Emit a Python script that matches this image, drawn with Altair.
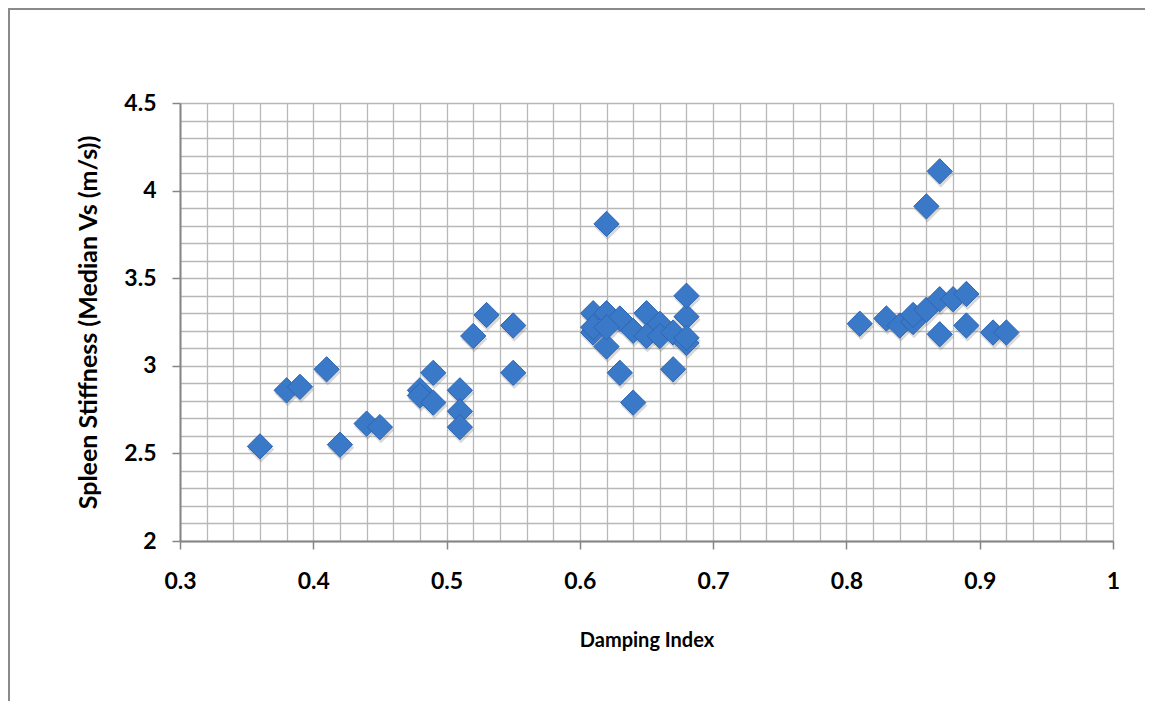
import altair as alt
import pandas as pd

damping = [0.36, 0.38, 0.39, 0.41, 0.42, 0.44, 0.45, 0.48, 0.48, 0.49, 0.49, 0.51, 0.51, 0.51,
           0.52, 0.53, 0.55, 0.55,
           0.62, 0.61, 0.62, 0.63, 0.65, 0.66, 0.68, 0.68, 0.61, 0.61, 0.62, 0.62, 0.64, 0.65,
           0.66, 0.67, 0.68, 0.68, 0.63, 0.67, 0.64,
           0.81, 0.83, 0.84, 0.85, 0.85, 0.86, 0.86, 0.87, 0.87, 0.87, 0.88, 0.89, 0.89, 0.91, 0.92]
stiffness = [2.54, 2.86, 2.88, 2.98, 2.55, 2.67, 2.65, 2.86, 2.83, 2.96, 2.79, 2.86, 2.74, 2.65,
             3.17, 3.29, 3.23, 2.96,
             3.81, 3.30, 3.30, 3.27, 3.30, 3.24, 3.28, 3.40, 3.19, 3.22, 3.11, 3.22, 3.20, 3.17,
             3.17, 3.19, 3.13, 3.16, 2.96, 2.98, 2.79,
             3.24, 3.27, 3.23, 3.25, 3.29, 3.32, 3.91, 4.11, 3.38, 3.18, 3.38, 3.41, 3.23, 3.19, 3.19]

x_grid = [round(0.3 + 0.02 * i, 2) for i in range(36)]
y_grid = [round(2.0 + 0.1 * i, 1) for i in range(26)]

df = pd.DataFrame({"damping": damping, "stiffness": stiffness})

W, H = 933, 438
FONT = "Lato"

x_axis = alt.Axis(
    values=x_grid, tickCount=200,
    title="Damping Index",
    labelExpr="abs(datum.value*10 - round(datum.value*10)) < 1e-6 ? toString(round(datum.value*10)/10) : ''",
    labelFont=FONT, labelFontSize=23, labelFontWeight="bold", labelColor="#000",
    labelPadding=21, labelBaseline="top", labelFlush=False, labelOverlap=False,
    titleFont=FONT, titleFontSize=20, titleFontWeight="bold", titleColor="#000",
    titleX=W / 2, titleY=99, titleBaseline="middle", titleAnchor="middle",
    grid=True, gridColor="#b8b8b8", gridWidth=1.3,
    domainColor="#868686", domainWidth=2,
    tickColor="#868686", tickWidth=1.5, tickSize=8,
    tickOpacity={"condition": {"test": "abs(datum.value*10 - round(datum.value*10)) < 1e-6", "value": 1}, "value": 0},
)
y_axis = alt.Axis(
    values=y_grid, tickCount=200,
    title="Spleen Stiffness (Median Vs (m/s))",
    labelExpr="abs(datum.value*2 - round(datum.value*2)) < 1e-6 ? toString(round(datum.value*10)/10) : ''",
    labelFont=FONT, labelFontSize=23, labelFontWeight="bold", labelColor="#000",
    labelPadding=16, labelFlush=False, labelOverlap=False,
    titleFont=FONT, titleFontSize=25, titleFontWeight="bold", titleColor="#000",
    titleX=-92, titleY=H / 2, titleBaseline="middle", titleAnchor="middle", titleAngle=270,
    grid=True, gridColor="#b8b8b8", gridWidth=1.3,
    domainColor="#868686", domainWidth=2,
    tickColor="#868686", tickWidth=1.5, tickSize=8,
    tickOpacity={"condition": {"test": "abs(datum.value*2 - round(datum.value*2)) < 1e-6", "value": 1}, "value": 0},
)

xs = alt.Scale(domain=[0.3, 1.0], nice=False, zero=False)
ys = alt.Scale(domain=[2.0, 4.5], nice=False, zero=False)

base = alt.Chart(df)

shadow = base.mark_point(shape="diamond", filled=True, color="#7f7f7f", opacity=0.3,
                         size=700, xOffset=1, yOffset=3).encode(
    x=alt.X("damping:Q", scale=xs, axis=x_axis),
    y=alt.Y("stiffness:Q", scale=ys, axis=y_axis),
)
points = base.mark_point(shape="diamond", filled=True, fill="#3a78c8", stroke="#2e66b2",
                         strokeWidth=1, opacity=1, size=640).encode(
    x=alt.X("damping:Q", scale=xs),
    y=alt.Y("stiffness:Q", scale=ys),
)

border_left = alt.Chart(df).mark_rule(color="#8a8a8a", strokeWidth=2).encode(
    x=alt.value(-171), y=alt.value(-95), y2=alt.value(H + 170))
border_top = alt.Chart(df).mark_rule(color="#8a8a8a", strokeWidth=2).encode(
    y=alt.value(-94), x=alt.value(-172), x2=alt.value(W + 40))

chart = alt.layer(border_left, border_top, shadow, points).properties(
    width=W, height=H,
    autosize=alt.AutoSizeParams(type="none"),
    padding={"left": 172, "top": 95, "right": 32, "bottom": 160},
    background="white",
).configure_view(stroke=None)

chart.save("out.html", embed_options={"renderer": "svg", "actions": False})
